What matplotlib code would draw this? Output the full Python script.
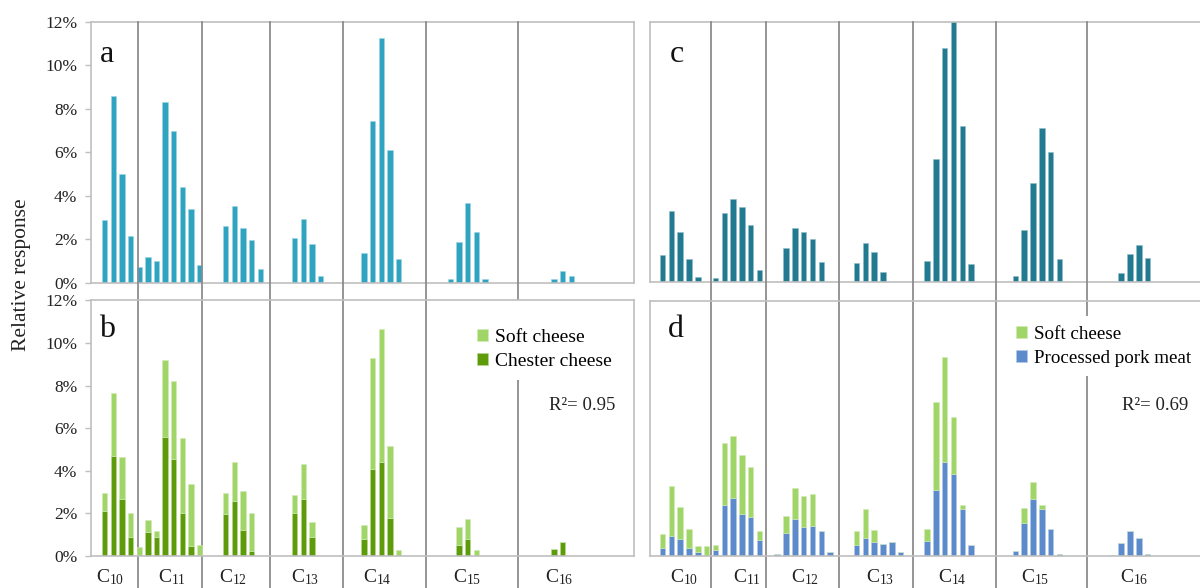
import matplotlib
matplotlib.use("Agg")
import matplotlib.pyplot as plt
import matplotlib.transforms as mtransforms
from matplotlib.patches import Rectangle
import numpy as np

plt.rcParams['font.family'] = ['Liberation Serif', 'DejaVu Serif']
plt.rcParams['mathtext.fontset'] = 'custom'
plt.rcParams['mathtext.rm'] = 'Liberation Serif'
plt.rcParams['mathtext.it'] = 'Liberation Serif:italic'

# carbon-chain groups (x labels)
chains = ["C$_{\\mathrm{10}}$", "C$_{\\mathrm{11}}$", "C$_{\\mathrm{12}}$", "C$_{\\mathrm{13}}$",
          "C$_{\\mathrm{14}}$", "C$_{\\mathrm{15}}$", "C$_{\\mathrm{16}}$"]

# relative response (%) per isomer slot, left panels (slots 0..54)
resp_a = [2.88, 8.59, 5.02, 2.15,
          0.74, 1.17, 1.00, 8.33, 6.97, 4.39, 3.39, 0.81, 0, 0,
          2.59, 3.51, 2.52, 1.96, 0.64, 0, 0, 0,
          2.07, 2.95, 1.80, 0.29, 0, 0, 0, 0,
          1.35, 7.44, 11.26, 6.09, 1.09, 0, 0, 0, 0, 0,
          0.17, 1.87, 3.67, 2.32, 0.17, 0, 0, 0, 0, 0, 0, 0,
          0.17, 0.52, 0.29]

chester_b = [2.13, 4.69, 2.69, 0.91,
             0, 1.11, 0.91, 5.58, 4.56, 2.02, 0.47, 0, 0, 0,
             1.98, 2.58, 1.22, 0.22, 0, 0, 0, 0,
             2.00, 2.69, 0.91, 0, 0, 0, 0, 0,
             0.78, 4.09, 4.42, 1.78, 0, 0, 0, 0, 0, 0,
             0, 0.52, 0.78, 0, 0, 0, 0, 0, 0, 0, 0, 0,
             0.33, 0.66, 0]
soft_b = [0.85, 2.94, 1.94, 1.09,
          0.42, 0.58, 0.28, 3.64, 3.64, 3.51, 2.91, 0.53, 0, 0,
          0.99, 1.81, 1.83, 1.81, 0, 0, 0, 0,
          0.84, 1.65, 0.68, 0, 0, 0, 0, 0,
          0.67, 5.19, 6.21, 3.38, 0.28, 0, 0, 0, 0, 0,
          0, 0.86, 0.95, 0.28, 0, 0, 0, 0, 0, 0, 0, 0,
          0, 0, 0]

# right panels (slots 0..55)
resp_c = [1.25, 3.28, 2.29, 1.06, 0.22, 0,
          0.17, 3.17, 3.83, 3.45, 2.65, 0.57, 0, 0,
          1.57, 2.48, 2.29, 2.00, 0.92, 0, 0, 0,
          0.88, 1.80, 1.37, 0.45, 0, 0, 0, 0,
          0.97, 5.68, 10.78, 12.9, 7.20, 0.82, 0, 0, 0, 0,
          0.29, 2.38, 4.57, 7.09, 6.00, 1.06, 0, 0, 0, 0, 0, 0,
          0.42, 1.29, 1.69, 1.11]

pork_d = [0.39, 0.94, 0.78, 0.39, 0.17, 0,
          0.30, 2.40, 2.73, 1.96, 1.84, 0.75, 0, 0.09,
          1.10, 1.73, 1.36, 1.43, 1.16, 0.17, 0, 0,
          0.50, 0.86, 0.67, 0.58, 0.66, 0.17, 0, 0,
          0.71, 3.11, 4.41, 3.84, 2.21, 0.53, 0, 0, 0, 0,
          0.25, 1.57, 2.70, 2.21, 1.27, 0.09, 0, 0, 0, 0, 0, 0.05,
          0.61, 1.19, 0.83, 0.09]
soft_d = [0.63, 2.35, 1.54, 0.88, 0.32, 0.45,
          0.23, 2.93, 2.93, 2.81, 2.35, 0.44, 0, 0,
          0.78, 1.45, 1.45, 1.47, 0, 0, 0, 0,
          0.69, 1.34, 0.55, 0, 0, 0, 0, 0,
          0.56, 4.14, 4.95, 2.72, 0.19, 0, 0, 0, 0, 0,
          0, 0.67, 0.77, 0.19, 0, 0, 0, 0, 0, 0, 0, 0,
          0, 0, 0, 0]

# layout: group separators and label centres, in slot units
sep_left = [3.85, 11.26, 19.13, 27.58, 37.2, 47.83]
lab_left = [0.6, 7.8, 14.85, 23.2, 31.6, 41.9, 52.6]
sep_right = [5.5, 11.7, 20.0, 28.4, 37.8, 48.1]
lab_right = [2.5, 9.6, 16.2, 24.7, 32.8, 42.3, 53.5]

col_a = '#2fa4c1'
col_c = '#217a8f'
col_light = '#a0d567'
col_dark = '#5e9b0a'
col_blue = '#5b8bcb'
spine_col = '#bfbfbf'
sep_col = '#8c8c8c'

W, H = 1200, 588
fig = plt.figure(figsize=(12, 5.88), dpi=100)


def px_axes(l, t, r, b):
    return fig.add_axes([l / W, 1 - b / H, (r - l) / W, (b - t) / H])


ax_a = px_axes(91.3, 22, 634, 282.7)
ax_c = px_axes(650, 22, 1200, 282)
ax_b = px_axes(91.3, 300.3, 634, 556)
ax_d = px_axes(650, 301, 1200, 556)

bw = 0.62
xl = np.arange(len(resp_a))
xr = np.arange(len(resp_c))

ax_a.bar(xl, resp_a, bw, color=col_a, edgecolor='#9fd3e3', linewidth=0.4)
ax_c.bar(xr, resp_c, bw, color=col_c, edgecolor='#8fbccb', linewidth=0.4)
ch = ax_b.bar(xl, chester_b, bw, color=col_dark, edgecolor='#b9d98f', linewidth=0.4,
              label='Chester cheese')
sb = ax_b.bar(xl, soft_b, bw, bottom=chester_b, color=col_light, edgecolor='#d3ecb8',
              linewidth=0.4, label='Soft cheese')
pk = ax_d.bar(xr, pork_d, bw, color=col_blue, edgecolor='#b5c9e8', linewidth=0.4,
              label='Processed pork meat')
sd = ax_d.bar(xr, soft_d, bw, bottom=pork_d, color=col_light, edgecolor='#d3ecb8',
              linewidth=0.4, label='Soft cheese')

for ax in (ax_a, ax_b, ax_c, ax_d):
    ax.set_ylim(0, 12)
    ax.set_yticks(np.arange(0, 13, 2))
    ax.set_xticks([])
    for s in ax.spines.values():
        s.set_color(spine_col)
        s.set_linewidth(1.2)

for ax in (ax_a, ax_b):
    ax.set_xlim(-1.55, 61.26)
    ax.set_yticklabels([f"{v}%" for v in range(0, 13, 2)])
    ax.tick_params(axis='y', direction='out', length=4, width=1, color=spine_col,
                   labelsize=12.5, pad=6, labelcolor='#222222')

for ax in (ax_c, ax_d):
    ax.set_xlim(-1.42, 60.94)
    ax.tick_params(axis='y', length=0, labelleft=False)
    ax.spines['right'].set_visible(False)

# separators running through both panels and below
for ax, seps in ((ax_b, sep_left), (ax_d, sep_right)):
    tr = mtransforms.blended_transform_factory(ax.transData, fig.transFigure)
    for s in seps:
        ax.plot([s, s], [0, 1 - 22 / H], transform=tr, color=sep_col, lw=1.3,
                clip_on=False, zorder=0.5)

# white area behind legend b (hides the separator there)
ax_b.add_patch(Rectangle((468 / W, 1 - 372 / H), 150 / W, 72 / H,
                         transform=fig.transFigure, facecolor='white',
                         edgecolor='none', zorder=0.8))

# x labels
for ax, pos in ((ax_b, lab_left), (ax_d, lab_right)):
    tr = mtransforms.blended_transform_factory(ax.transData, fig.transFigure)
    for p, lab in zip(pos, chains):
        ax.text(p, 1 - 582 / H, lab, transform=tr, ha='center', va='baseline',
                fontsize=14, color='#222222')

# legends
leg_kw = dict(loc='upper left', bbox_transform=fig.transFigure, frameon=True,
              facecolor='white', edgecolor='none', framealpha=1, fancybox=False,
              handlelength=0.6, handleheight=0.6, handletextpad=0.35,
              labelspacing=0.37, borderaxespad=0, borderpad=0.5)
ax_b.legend([sb, ch], ['Soft cheese', 'Chester cheese'], fontsize=14,
            bbox_to_anchor=(467 / W, 1 - 319 / H), **leg_kw)
ax_d.legend([sd, pk], ['Soft cheese', 'Processed pork meat'], fontsize=13.7,
            bbox_to_anchor=(1006 / W, 1 - 316 / H), **leg_kw)

fig.text(549 / W, 1 - 405 / H, "R²= 0.95", ha='left', va='center', fontsize=13.5,
         color='#222222')
fig.text(1122 / W, 1 - 405 / H, "R²= 0.69", ha='left', va='center', fontsize=13.5,
         color='#222222')

for letter, x, y in (('a', 100, 62), ('b', 99, 337), ('c', 670, 62), ('d', 668, 337)):
    fig.text(x / W, 1 - y / H, letter, ha='left', va='baseline', fontsize=23,
             color='#111111')

fig.text(22 / W, 1 - 275 / H, "Relative response", rotation=90, ha='center',
         va='center', fontsize=15.5, color='#222222')

fig.savefig('out.png', dpi=100)
